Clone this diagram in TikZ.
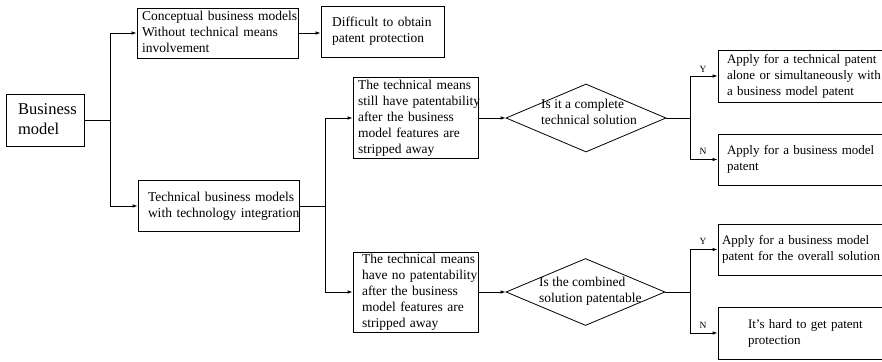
\documentclass[tikz,border=0pt]{standalone}
\usepackage{fontspec}
\setmainfont{Liberation Serif}
\usetikzlibrary{shapes.geometric,arrows.meta,calc}
\newcommand\mylines[1]{\begin{tabular}{@{}l@{}}#1\end{tabular}}
\begin{document}
\begin{tikzpicture}[x=1pt,y=-1pt,
  box/.style={draw,line width=0.8pt,align=left,inner ysep=0pt,font=\fontsize{13.5}{16}\selectfont},
  rbox/.style={box,minimum width=180pt,font=\fontsize{13}{16}\selectfont},
  dia/.style={draw,diamond,line width=0.8pt,inner sep=0pt},
  dtext/.style={align=left,inner sep=0pt,anchor=west,font=\fontsize{13.5}{16}\selectfont},
  conn/.style={line width=0.8pt},
  arr/.style={conn,-{Latex[length=5pt,width=3.5pt]}},
  yn/.style={font=\fontsize{9.5}{10}\selectfont,inner sep=0pt}]
\useasboundingbox (0,0) rectangle (882,361);

% boxes
\node[box,minimum width=78pt,minimum height=52pt,text width=54pt,inner xsep=12pt,
      font=\fontsize{16.5}{20}\selectfont] (biz) at (45,120) {\mylines{Business\\model}};
\node[box,minimum width=161pt,minimum height=50pt,text width=151pt,inner xsep=5pt] (concept) at (217.5,33)
  {\mylines{Conceptual business models\\Without technical means\\involvement}};
\node[box,minimum width=123pt,minimum height=51pt,text width=101pt,inner xsep=11pt] (diff) at (382.5,31.5)
  {\mylines{Difficult to obtain\\patent protection}};
\node[box,minimum width=161pt,minimum height=51pt,text width=141pt,inner xsep=10pt] (tech) at (218.5,206)
  {\mylines{Technical business models\\with technology integration}};
\node[box,minimum width=125pt,minimum height=81pt,text width=115pt,inner xsep=5pt] (still) at (415.5,118)
  {\mylines{The technical means\\still have patentability\\after the business\\model features are\\stripped away}};
\node[box,minimum width=125pt,minimum height=80pt,text width=107pt,inner xsep=9pt] (no) at (415.5,292)
  {\mylines{The technical means\\have no patentability\\after the business\\model features are\\stripped away}};

% diamonds
\node[dia,minimum width=160pt,minimum height=68pt] (d1) at (586,118) {};
\node[dtext] (d1t) at (541,112) {Is it a complete\\technical solution};
\node[dia,minimum width=159pt,minimum height=67pt] (d2) at (585.5,292) {};
\node[dtext] (d2t) at (539,291.5) {Is the combined\\solution patentable};

% right boxes
\node[rbox,minimum height=52pt,text width=162pt,inner xsep=9pt] (r1) at (808,76)
  {\mylines{Apply for a technical patent\\alone or simultaneously with\\a business model patent}};
\node[rbox,minimum height=51pt,text width=162pt,inner xsep=9pt] (r2) at (808,159.5)
  {\mylines{Apply for a business model\\patent}};
\node[rbox,minimum height=51pt,text width=172pt,inner xsep=4pt] (r3) at (808,249.5)
  {\mylines{Apply for a business model\\patent for the overall solution}};
\node[rbox,minimum height=52pt,text width=120pt,inner xsep=30pt] (r4) at (808,333)
  {\mylines{It{\char"27}s hard to get patent\\protection}};

% labels
\node[yn] (y1) at (703,69) {Y};
\node[yn] (n1) at (703,151) {N};
\node[yn] (y2) at (703,241) {Y};
\node[yn] (n2) at (703,325) {N};

% connectors
\coordinate (j1) at (110,120);
\draw[conn] (biz.east) -- (j1);
\draw[arr] (j1) |- (concept.west);
\draw[arr] (j1) |- (tech.west);
\draw[arr] (concept.east) -- (concept.east -| diff.west);

\coordinate (j2) at (325,206);
\draw[conn] (tech.east) -- (j2);
\draw[arr] (j2) |- (still.west);
\draw[arr] (j2) |- (no.west);

\draw[arr] (still.east) -- (d1.west);
\draw[arr] (no.east) -- (d2.west);

\coordinate (j3) at (690,118);
\draw[conn] (d1.east) -- (j3);
\draw[arr] (j3) |- (r1.west);
\draw[arr] (j3) |- (r2.west);

\coordinate (j4) at (690,292);
\draw[conn] (d2.east) -- (j4);
\draw[arr] (j4) |- (r3.west);
\draw[arr] (j4) |- (r4.west);
\end{tikzpicture}
\end{document}
